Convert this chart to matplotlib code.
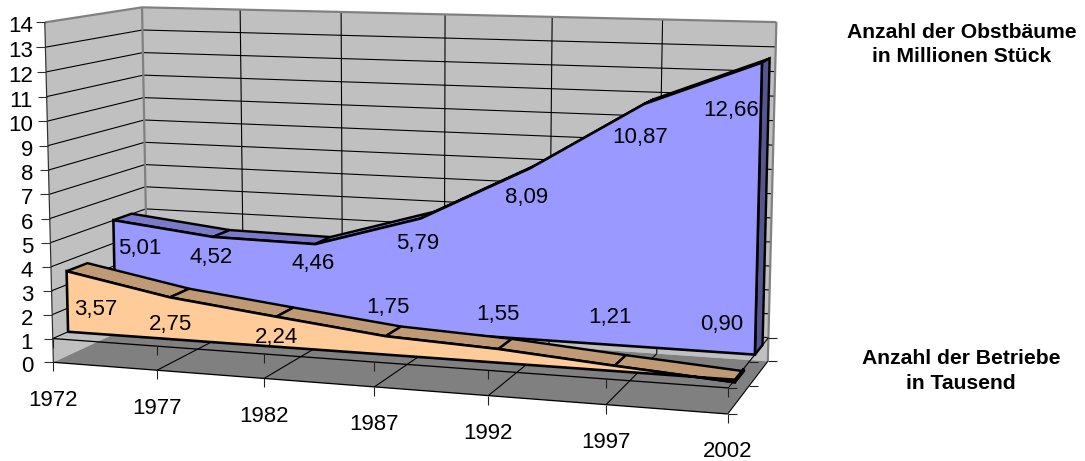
import numpy as np
import matplotlib
matplotlib.use("Agg")
import matplotlib.pyplot as plt
from matplotlib.patches import Polygon

plt.rcParams['font.family'] = ['Liberation Sans', 'DejaVu Sans']

# ---- data ----
years = ['1972', '1977', '1982', '1987', '1992', '1997', '2002']
betriebe = [3.57, 2.75, 2.24, 1.75, 1.55, 1.21, 0.90]
obstbaeume = [5.01, 4.52, 4.46, 5.79, 8.09, 10.87, 12.66]
y_ticks = list(range(0, 15))
title_back = 'Anzahl der Obstbäume\nin Millionen Stück'
title_front = 'Anzahl der Betriebe\nin Tausend'

# ---- 3D projection, fitted on the box corners of the chart (x cat, y value, z depth -> pixel) ----
anchors = [
    ((0, 0, 0), (53, 362)), ((0, 14, 0), (45, 22.5)),
    ((0, 0, 1), (148, 320)), ((0, 14, 1), (142, 6.5)),
    ((6, 0, 1), (768, 361)), ((6, 14, 1), (777, 22)),
    ((6, 0, 0), (728, 415)), ((6, 1, 0), (728, 388)),
    ((1, 0, 0), (157, 370)), ((2, 0, 0), (264, 378)), ((5, 0, 0), (606, 405)),
    ((1, 14, 1), (240, 10)), ((5, 14, 1), (662, 20)), ((5, 0, 1), (657, 353)),
    ((6, 1, 1), (768, 337)), ((0, 1, 0), (53, 338)),
]
A = []
for (X, Y, Z), (u, v) in anchors:
    A.append([X, Y, Z, 1, 0, 0, 0, 0, -u * X, -u * Y, -u * Z, -u])
    A.append([0, 0, 0, 0, X, Y, Z, 1, -v * X, -v * Y, -v * Z, -v])
P = np.linalg.svd(np.array(A, float))[2][-1].reshape(3, 4)


def pr(x, y, z):
    h = P @ np.array([x, y, z, 1.0])
    return h[0] / h[2], h[1] / h[2]


fig = plt.figure(figsize=(10.85, 4.61), dpi=100)
ax = fig.add_axes([0, 0, 1, 1])
ax.set_xlim(0, 1085)
ax.set_ylim(461, 0)
ax.axis('off')

PX = 0.72
WALL = '#C0C0C0'
FLOOR = '#808080'
EDGE = '#808080'


def poly(pts, fc, ec='none', lw=0.0, zo=1):
    ax.add_patch(Polygon(pts, closed=True, facecolor=fc, edgecolor=ec, linewidth=lw,
                         joinstyle='miter', zorder=zo))


def seg(a, b, color='k', lw=1.0, zo=2):
    ax.plot([a[0], b[0]], [a[1], b[1]], color=color, lw=lw * PX, zorder=zo,
            solid_capstyle='butt')


n = len(years) - 1
ymax = y_ticks[-1]

# walls and floor
poly([pr(0, 0, 0), pr(0, ymax, 0), pr(0, ymax, 1), pr(0, 0, 1)], WALL)
poly([pr(0, 0, 1), pr(0, ymax, 1), pr(n, ymax, 1), pr(n, 0, 1)], WALL)
poly([pr(0, 0, 0), pr(0, 0, 1), pr(n, 0, 1), pr(n, 0, 0)], FLOOR)

# grid
for t in y_ticks[1:-1]:
    seg(pr(0, t, 0), pr(0, t, 1), lw=1.1)
    seg(pr(0, t, 1), pr(n, t, 1), lw=1.1)
for i in range(1, n):
    seg(pr(i, 0, 1), pr(i, ymax, 1), lw=1.1)
    seg(pr(i, 0, 0), pr(i, 0, 1), lw=1.1)

# wall edges
seg(pr(0, ymax, 0), pr(0, ymax, 1), EDGE, 2.2, 3)
seg(pr(0, ymax, 1), pr(n, ymax, 1), EDGE, 2.2, 3)
seg(pr(0, 0, 1), pr(0, ymax, 1), EDGE, 2.2, 3)
seg(pr(n, 0, 1), pr(n, ymax, 1), EDGE, 2.2, 3)
seg(pr(0, 0, 0), pr(0, ymax, 0), '#303030', 1.2, 3)

# axes at value 0 and at value 1 (category axis crosses at 1)
for level in (0, 1):
    seg(pr(0, level, 0), pr(n, level, 0), lw=1.3, zo=3)
    seg(pr(n, level, 0), pr(n, level, 1), lw=1.1, zo=3)
    for i in range(n + 1):
        x0, y0 = pr(i, level, 0)
        seg((x0, y0), (x0, y0 + 9), '#202020', 1.1, 3)
    for z in (0, 0.5, 1):
        x0, y0 = pr(n, level, z)
        seg((x0, y0), (x0 + 9, y0), '#202020', 1.1, 3)

for t in y_ticks:
    x0, y0 = pr(0, t, 0)
    seg((x0 - 9, y0), (x0, y0), '#303030', 1.1, 3)
    ax.text(33, y0 + 4.5, str(t), ha='right', va='center', fontsize=16, color='k', zorder=9)

cat_label_offset = 38
for i, lab in enumerate(years):
    x0, y0 = pr(i, 0, 0)
    ax.text(x0, y0 + cat_label_offset, lab, ha='center', va='center', fontsize=16, zorder=9)


def area(vals, z1, z2, front, top, side, zo):
    base = 1
    for i in range(n):
        poly([pr(i, vals[i], z1), pr(i + 1, vals[i + 1], z1),
              pr(i + 1, vals[i + 1], z2), pr(i, vals[i], z2)],
             top, 'k', 2.4 * PX, zo)
    poly([pr(n, base, z1), pr(n, vals[n], z1), pr(n, vals[n], z2), pr(n, base, z2)],
         side, 'k', 2.4 * PX, zo)
    pts = [pr(0, base, z1)] + [pr(i, vals[i], z1) for i in range(n + 1)] + [pr(n, base, z1)]
    poly(pts, front, 'k', 2.6 * PX, zo + 0.5)


area(obstbaeume, 0.64, 0.84, '#9999FF', '#7A7AC8', '#55558F', 4)
area(betriebe, 0.15, 0.36, '#FFCC99', '#C09A74', '#806650', 5)

# value labels (pixel anchors as placed in the original chart)
anchor_front = [(96, 309), (170, 324), (276, 337), (388, 307), (498, 314), (610, 317), (722, 324)]
anchor_back = [(140, 248), (211, 257), (313, 263), (418, 243), (527, 197), (640, 137), (731, 110)]
for vals, anchors_txt in ((betriebe, anchor_front), (obstbaeume, anchor_back)):
    for v, (tx, ty) in zip(vals, anchors_txt):
        ax.text(tx, ty, f'{v:.2f}'.replace('.', ','), ha='center', va='center',
                fontsize=16, zorder=10)

ax.text(962, 44.5, title_back, ha='center', va='center', fontsize=15.2, fontweight='bold',
        linespacing=1.4, zorder=10)
ax.text(961, 370.5, title_front, ha='center', va='center', fontsize=15.2, fontweight='bold',
        linespacing=1.4, zorder=10)

fig.savefig('out.png', dpi=100)
